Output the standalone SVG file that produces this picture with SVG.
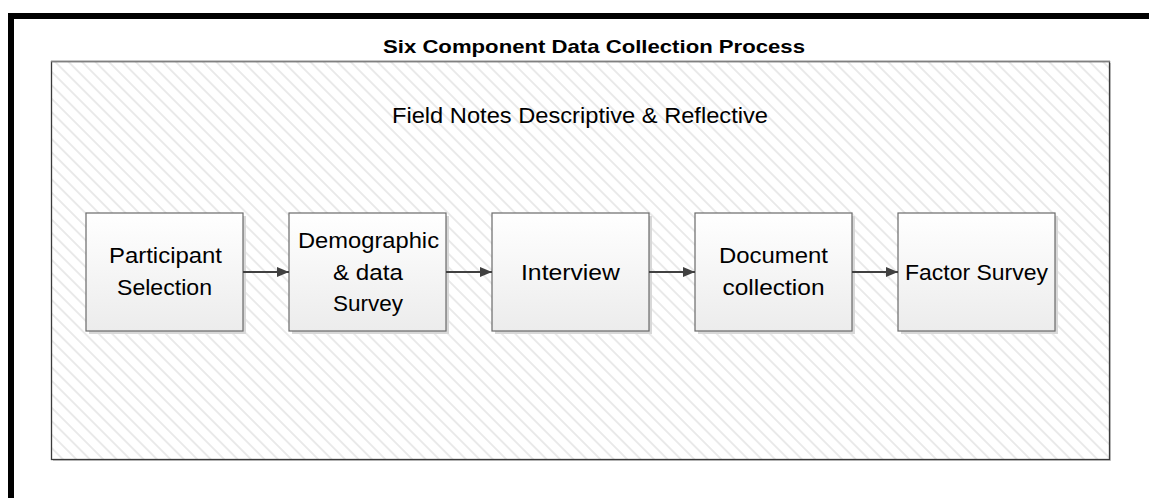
<svg xmlns="http://www.w3.org/2000/svg" width="1149" height="498" viewBox="0 0 1149 498">
  <defs>
    <pattern id="hatch" patternUnits="userSpaceOnUse" width="9.5" height="9.5" patternTransform="rotate(45)">
      <rect width="9.5" height="9.5" fill="#ffffff"/>
      <line x1="0" y1="4.75" x2="9.5" y2="4.75" stroke="#e8e8e8" stroke-width="1.8"/>
    </pattern>
    <linearGradient id="boxfill" x1="0" y1="0" x2="0" y2="1">
      <stop offset="0" stop-color="#ffffff"/>
      <stop offset="1" stop-color="#ececec"/>
    </linearGradient>
    <marker id="arrow" viewBox="0 0 12 10" refX="12" refY="5" markerWidth="12" markerHeight="10" markerUnits="userSpaceOnUse" orient="auto">
      <path d="M0,0 L12,5 L0,10 Z" fill="#404040"/>
    </marker>
    <style>
      .title { font-family: "Liberation Sans", Arial, sans-serif; font-weight: bold; font-size: 19px; fill: #000; }
      .lbl { font-family: "Liberation Sans", Arial, sans-serif; font-size: 22px; fill: #000; }
      .box { fill: url(#boxfill); stroke: #6a6a6a; stroke-width: 1.2; }
      .shadow { fill: #d8d8d8; }
      .conn { stroke: #404040; stroke-width: 2; fill: none; }
    </style>
  </defs>

  <g id="frame">
    <rect x="8" y="13" width="1141" height="6" fill="#000"/>
    <rect x="8" y="13" width="6" height="485" fill="#000"/>
  </g>

  <g id="container">
    <rect x="53" y="63" width="1058" height="398" fill="#c8c8c8"/>
    <rect x="51.5" y="61.5" width="1058" height="398" fill="url(#hatch)" stroke="#3a3a3a" stroke-width="1.3"/>
    <line x1="51" y1="61.5" x2="1110" y2="61.5" stroke="#808080" stroke-width="1.5"/>
  </g>

  <g id="title">
    <text class="title" x="594" y="53" text-anchor="middle" textLength="422" lengthAdjust="spacingAndGlyphs">Six Component Data Collection Process</text>
  </g>

  <g id="fieldnotes">
    <text class="lbl" x="580" y="123" text-anchor="middle" textLength="376" lengthAdjust="spacingAndGlyphs">Field Notes Descriptive &amp; Reflective</text>
  </g>

  <g id="n1">
    <rect class="shadow" x="89" y="216" width="157" height="118"/>
    <rect class="box" x="86" y="213" width="157" height="118"/>
    <text class="lbl" x="165.5" y="263" text-anchor="middle" textLength="113" lengthAdjust="spacingAndGlyphs">Participant</text>
    <text class="lbl" x="164.5" y="295" text-anchor="middle" textLength="95" lengthAdjust="spacingAndGlyphs">Selection</text>
  </g>

  <g id="n2">
    <rect class="shadow" x="292" y="216" width="157" height="118"/>
    <rect class="box" x="289" y="213" width="157" height="118"/>
    <text class="lbl" x="368.5" y="248" text-anchor="middle" textLength="141" lengthAdjust="spacingAndGlyphs">Demographic</text>
    <text class="lbl" x="368" y="280" text-anchor="middle" textLength="70" lengthAdjust="spacingAndGlyphs">&amp; data</text>
    <text class="lbl" x="368" y="311" text-anchor="middle" textLength="70" lengthAdjust="spacingAndGlyphs">Survey</text>
  </g>

  <g id="n3">
    <rect class="shadow" x="495" y="216" width="157" height="118"/>
    <rect class="box" x="492" y="213" width="157" height="118"/>
    <text class="lbl" x="570.5" y="280" text-anchor="middle" textLength="99" lengthAdjust="spacingAndGlyphs">Interview</text>
  </g>

  <g id="n4">
    <rect class="shadow" x="698" y="216" width="157" height="118"/>
    <rect class="box" x="695" y="213" width="157" height="118"/>
    <text class="lbl" x="773.5" y="263" text-anchor="middle" textLength="109" lengthAdjust="spacingAndGlyphs">Document</text>
    <text class="lbl" x="773.5" y="295" text-anchor="middle" textLength="102" lengthAdjust="spacingAndGlyphs">collection</text>
  </g>

  <g id="n5">
    <rect class="shadow" x="901" y="216" width="157" height="118"/>
    <rect class="box" x="898" y="213" width="157" height="118"/>
    <text class="lbl" x="976.5" y="280" text-anchor="middle" textLength="143" lengthAdjust="spacingAndGlyphs">Factor Survey</text>
  </g>

  <g id="connectors">
    <line class="conn" x1="243" y1="272" x2="289" y2="272" marker-end="url(#arrow)"/>
    <line class="conn" x1="446" y1="272" x2="492" y2="272" marker-end="url(#arrow)"/>
    <line class="conn" x1="649" y1="272" x2="695" y2="272" marker-end="url(#arrow)"/>
    <line class="conn" x1="852" y1="272" x2="898" y2="272" marker-end="url(#arrow)"/>
  </g>
</svg>
